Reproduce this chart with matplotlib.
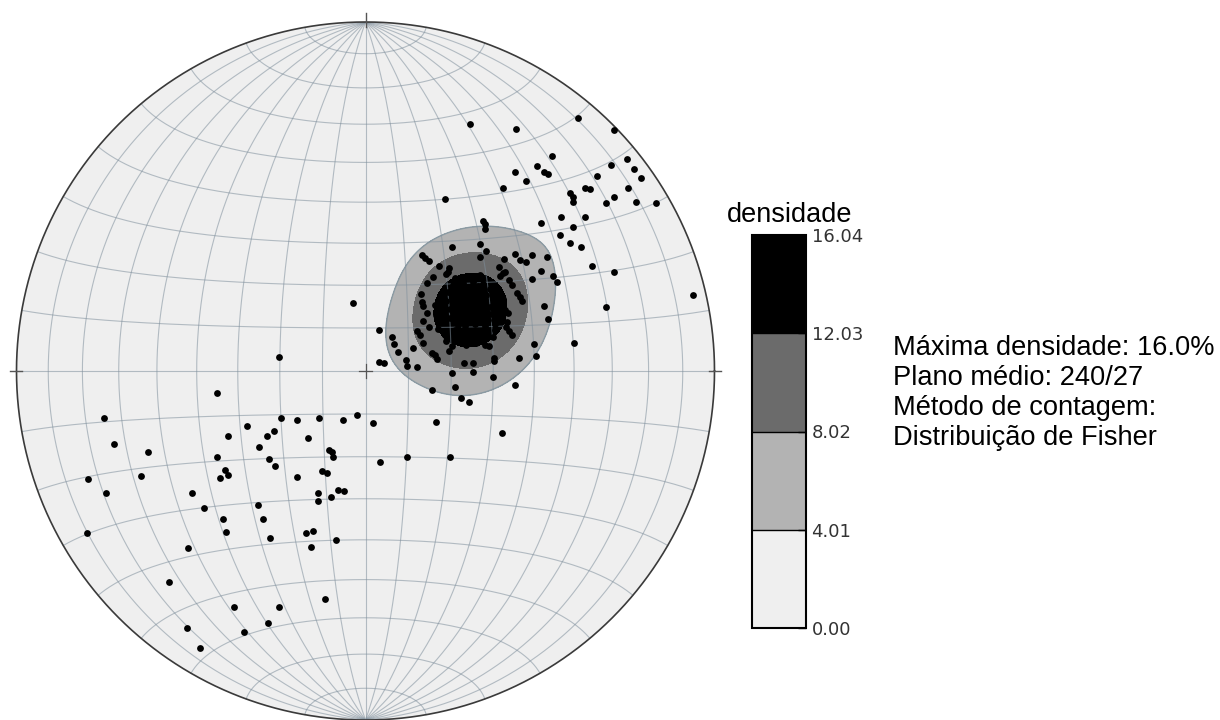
import numpy as np
import matplotlib
matplotlib.use("Agg")
import matplotlib.pyplot as plt
from matplotlib.colors import ListedColormap, BoundaryNorm
from matplotlib.patches import Circle

# poles: east / north, primitive radius = 349 units
NET_RADIUS = 349.0

ne_x = [104, 150, 212, 248, 186, 261, 171, 149, 178, 182, 268, 245, 231, 275, 160, 137, 79,
        204, 207, 207, 219, 224, 262, 248, 240, 270, 290, 195, 219, 175, 207, 194, 204, 215,
        226, 248, 327, 240, 208]
ne_y = [247, 242, 253, 241, 215, 212, 205, 199, 199, 197, 202, 206, 195, 193, 190, 183, 172,
        178, 174, 169, 183, 182, 183, 174, 168, 169, 168, 154, 154, 148, 144, 136, 128, 124,
        105, 99, 76, 64, 28]

cluster_x = [117, 119, 119, 114, 86, 120, 114, 56, 59, 63, 73, 83, 82, 80, 67, 61, 55, 56, 57,
             61, 57, 89, 91, 93, 114, 133, 138, 149, 154, 160, 166, 181, 175, 166, 187, 191,
             134, 137, 139, 143, 146, 151, 154, 156, 178, 182, 141, 143, 146, 168, 170, 153,
             13, 26, 28, 32, 13, 18, 40, 41, 51, 47, 51, 54, 57, 63, 66, 69, 71, 83, 98, 107,
             86, 107, 128, 128, 127, 119, 123, 149, 66, 89, 95, 103, 70, 136, 41, 84, -13, -87]
cluster_y = [150, 147, 142, 127, 124, 120, 114, 116, 113, 110, 105, 103, 99, 97, 94, 88, 77,
             69, 65, 58, 50, 93, 90, 88, 96, 104, 112, 117, 111, 109, 116, 114, 100, 92, 95,
             89, 95, 98, 99, 91, 86, 78, 74, 70, 65, 52, 49, 40, 36, 27, 15, 13,
             41, 34, 27, 19, 9, 8, 11, 5, 4, 23, 40, 36, 28, 44, 18, 16, 12, 20, 8, 8,
             -2, -1, 13, 10, -6, 26, 25, -14, -19, -16, -27, -31, -51, -62, -86, -86, 68, 14]

# poles hidden under the densest (black) patch
core_x = [74, 82, 92, 102, 112, 124, 132, 79, 89, 99, 109, 119, 129, 139, 74, 84, 94, 104,
          114, 124, 134, 79, 89, 99, 109, 119, 129, 94, 104, 114, 102, 112, 92, 122, 106,
          69, 77, 87, 97, 107, 117, 127, 137, 70, 80, 90, 100, 110, 120, 130, 142,
          72, 84, 94, 104, 114, 124, 136, 80, 89, 99, 109, 119, 129, 140, 86, 97, 107,
          117, 127, 100, 110]
core_y = [71, 79, 81, 83, 85, 82, 77, 61, 66, 71, 73, 71, 66, 61, 49, 53, 56, 59, 61, 57,
          53, 36, 41, 45, 47, 45, 41, 31, 33, 35, 66, 53, 46, 51, 76,
          66, 75, 86, 88, 89, 87, 80, 72, 56, 70, 74, 77, 79, 76, 72, 58,
          42, 62, 63, 65, 67, 64, 50, 30, 50, 52, 54, 40, 47, 44, 25, 38, 40,
          30, 34, 26, 28]

sw_x = [-149, -262, -252, -218, -278, -260, -224, -174, -149, -138, -119, -107, -99, -92, -97,
        -91, -85, -69, -47, -23, -9, 7, -58, -37, -34, -33, 14, -141, -138, -146, -69, -44,
        -39, -48, -28, -22, -35, -48, -108, -162, -143, -103, -140, -279, -60, -53, -96, -30,
        -55, -178, -197, -41, -132, -87, -98, -179, -122, -166]
sw_y = [-22, -47, -73, -81, -108, -122, -105, -122, -86, -65, -55, -76, -65, -60, -88, -95,
        -47, -49, -47, -49, -44, -52, -67, -79, -81, -86, -91, -99, -104, -107, -106, -100,
        -102, -122, -119, -120, -126, -130, -134, -137, -148, -148, -161, -162, -162, -160,
        -167, -169, -176, -177, -211, -228, -236, -236, -252, -257, -261, -277]

MAX_DENSITY = 16.04
KAPPA = 54.0
fill_colors = ['#efefef', '#b3b3b3', '#6b6b6b', '#000000']
info_lines = ['Máxima densidade: 16.0%', 'Plano médio: 240/27',
              'Método de contagem:', 'Distribuição de Fisher']


def net_xy(lon, lat):
    # lambert equal-area, normalised so the primitive has radius 1
    k = np.sqrt(2.0 / (1.0 + np.cos(lat) * np.cos(lon)))
    return k * np.cos(lat) * np.sin(lon) / np.sqrt(2), k * np.sin(lat) / np.sqrt(2)


def to_vectors(x, y):
    r = np.clip(np.hypot(x, y), 0, 1)
    theta = 2 * np.arcsin(r / np.sqrt(2))
    az = np.arctan2(y, x)
    return np.sin(theta) * np.cos(az), np.sin(theta) * np.sin(az), np.cos(theta)


px = np.array(ne_x + cluster_x + core_x + sw_x) / NET_RADIUS
py = np.array(ne_y + cluster_y + core_y + sw_y) / NET_RADIUS

# fisher kernel density on the sphere
g = np.linspace(-1.0, 1.0, 301)
gx, gy = np.meshgrid(g, g)
vx, vy, vz = to_vectors(gx, gy)
dens = np.zeros_like(gx)
for ex, ey, ez in zip(*to_vectors(px, py)):
    c = np.abs(vx * ex + vy * ey + vz * ez)
    dens += np.exp(KAPPA * (c - 1))
dens = dens / dens.max() * MAX_DENSITY
levels = np.linspace(0, MAX_DENSITY, 5)

fig = plt.figure(figsize=(12.2, 7.2), dpi=100)
ax = fig.add_axes([16.5 / 1220, 0.0, 698 / 1220, 698 / 720])
ax.set_xlim(-1, 1)
ax.set_ylim(-1, 1)
ax.set_aspect('equal')
ax.axis('off')

rim = Circle((0, 0), 1, facecolor=fill_colors[0], edgecolor='none', zorder=0)
ax.add_patch(rim)

cmap = ListedColormap(fill_colors)
norm = BoundaryNorm(levels, cmap.N)
cs = ax.contourf(gx, gy, dens, levels=levels, cmap=cmap, norm=norm, zorder=1)
cs.set_clip_path(rim)
cl = ax.contour(gx, gy, dens, levels=levels[1:2], colors='#8a9aa3', linewidths=1.0, zorder=2)
cl.set_clip_path(rim)

# schmidt net grid, 10 degrees
t = np.radians(np.linspace(-90, 90, 361))
for d in range(-80, 90, 10):
    mx, my = net_xy(np.radians(d), t)
    ax.plot(mx, my, color='#7f8f9c', alpha=0.55, lw=0.8, zorder=3)
    sx, sy = net_xy(t, np.radians(d))
    ax.plot(sx, sy, color='#7f8f9c', alpha=0.55, lw=0.8, zorder=3)

a = np.linspace(0, 2 * np.pi, 721)
ax.plot(np.cos(a), np.sin(a), color='#3a3a3a', lw=1.2, zorder=4, clip_on=False)
ax.plot([0, 0], [0.985, 1.025], color='#555555', lw=1.0, zorder=4, clip_on=False)
ax.plot([0.985, 1.02], [0, 0], color='#555555', lw=1.0, zorder=4, clip_on=False)
ax.plot([-1.02, -0.985], [0, 0], color='#555555', lw=1.0, zorder=4, clip_on=False)
ax.plot([-0.02, 0.02], [0, 0], color='#555555', lw=0.9, zorder=4)
ax.plot([0, 0], [-0.02, 0.02], color='#555555', lw=0.9, zorder=4)

ax.plot(px, py, 'o', color='black', ms=4.9, mec='none', zorder=5)

cax = fig.add_axes([752 / 1220, 92 / 720, 54 / 1220, 393 / 720])
cb = fig.colorbar(cs, cax=cax, ticks=levels, format='%.2f', drawedges=True)
cb.outline.set_linewidth(1.5)
cb.outline.set_edgecolor('black')
cb.dividers.set_color('black')
cb.dividers.set_linewidth(1.0)
cax.tick_params(direction='in', length=6, width=1, labelsize=13, labelcolor='#333333', pad=4)
cax.text(0.70, 1.033, 'densidade', transform=cax.transAxes, ha='center', va='baseline',
         fontsize=19.5, family='Liberation Sans')

fig.text(893 / 1220, 1 - 335 / 720, '\n'.join(info_lines), va='top', ha='left',
         fontsize=19.6, family='Liberation Sans', linespacing=1.2)

fig.savefig('out.png', dpi=100)
